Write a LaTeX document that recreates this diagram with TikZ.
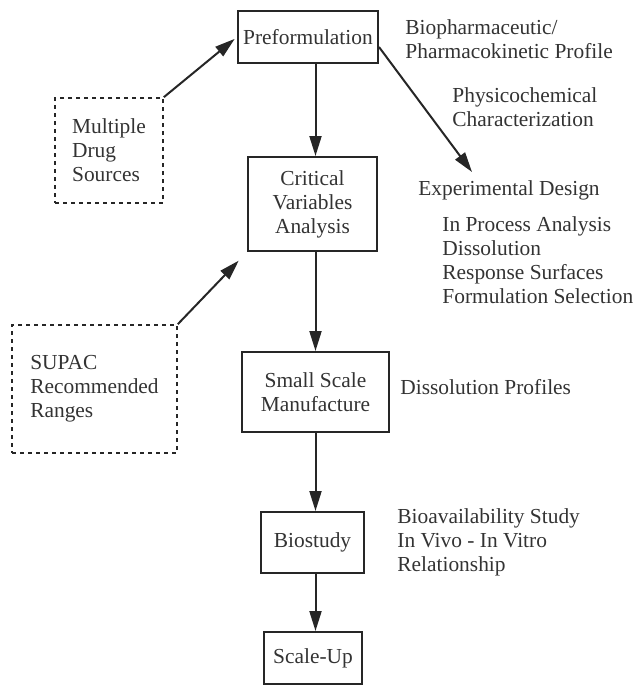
\documentclass[tikz,border=0pt]{standalone}
\usepackage{fontspec}
\setmainfont{Liberation Serif}
\usetikzlibrary{arrows.meta}

\begin{document}
\begin{tikzpicture}[
	x=0.5pt, y=-0.5pt,
	>={Triangle[length=10pt,width=6pt]},
	every node/.style={font=\fontsize{10.7}{12}\selectfont, text=black!80},
	stage/.style={draw=black!85, line width=1pt, align=center, inner sep=0pt},
	source/.style={draw=black!85, line width=0.8pt, dash pattern=on 2pt off 2pt, align=left, inner sep=0pt},
	note/.style={anchor=west, align=left, inner sep=0pt},
	flow/.style={->, draw=black!85, line width=1pt}
	]
	\useasboundingbox (0,0) rectangle (634,686);

	% =====================================================
	% TAHAPAN UTAMA
	% =====================================================
	\coordinate (spine) at (315.5,0);
	\node[stage, minimum width=70pt, minimum height=26pt] (pre) at (308,37) {Preformulation};
	\node[stage, minimum width=64.5pt, minimum height=47pt] (crit) at (312.5,204) {Critical\\Variables\\Analysis};
	\node[stage, minimum width=73.5pt, minimum height=40pt] (small) at (315.5,392) {Small Scale\\Manufacture};
	\node[stage, minimum width=51.5pt, minimum height=30.5pt] (bio) at (312.5,542.5) {Biostudy};
	\node[stage, minimum width=49pt, minimum height=26pt] (scale) at (313,658) {Scale-Up};

	% =====================================================
	% SUMBER (kotak putus-putus)
	% =====================================================
	\node[source, minimum width=54pt, minimum height=52.5pt] (multi) at (109,150.5) {Multiple\\Drug\\Sources};
	\node[source, minimum width=82.5pt, minimum height=64pt] (supac) at (94.5,389) {SUPAC\\Recommended\\Ranges};

	% =====================================================
	% KETERANGAN
	% =====================================================
	\node[note] (biopharm) at (405,39) {Biopharmaceutic/\\Pharmacokinetic Profile};
	\node[note] (physchem) at (452,107) {Physicochemical\\Characterization};
	\node[note] (expdes) at (418,190) {Experimental Design};
	\node[note] (steps) at (442,260) {In Process Analysis\\Dissolution\\Response Surfaces\\Formulation Selection};
	\node[note] (dissprof) at (400,387) {Dissolution Profiles};
	\node[note] (bioavail) at (397,542) {Bioavailability Study\\In Vivo - In Vitro\\Relationship};

	% =====================================================
	% PANAH
	% =====================================================
	\coordinate (exp tip) at (472,172);
	\draw[flow] (pre.south -| spine) -- (crit.north -| spine);
	\draw[flow] (crit.south -| spine) -- (small.north -| spine);
	\draw[flow] (small.south -| spine) -- (bio.north -| spine);
	\draw[flow] (bio.south -| spine) -- (scale.north -| spine);
	\draw[flow] ([yshift=-5pt]pre.east) -- (exp tip);
	\draw[flow, shorten >=1.5pt] (multi.north east) -- (pre.west);
	\draw[flow, shorten >=6pt] (supac.north east) -- (crit.south west);

\end{tikzpicture}
\end{document}
